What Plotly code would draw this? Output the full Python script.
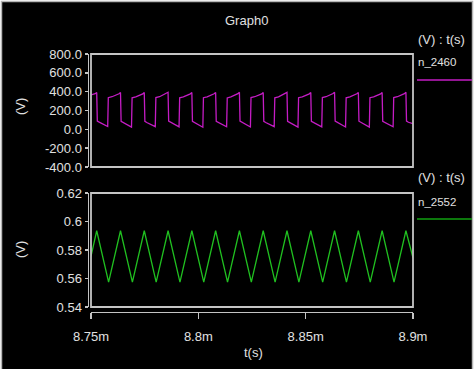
import plotly.graph_objects as go

# ---------------- data (time offsets in microseconds after 8.75 ms) ----------------
t0_s = 8.75e-3

n2460_t_us = [0.00, 1.96, 2.66, 2.94, 3.82,
              7.78, 8.06, 9.78, 13.04, 13.74, 14.02, 14.90,
              18.86, 19.14, 20.86, 24.12, 24.82, 25.10, 25.98,
              29.94, 30.22, 31.94, 35.20, 35.90, 36.18, 37.06,
              41.02, 41.30, 43.02, 46.28, 46.98, 47.26, 48.14,
              52.10, 52.38, 54.10, 57.36, 58.06, 58.34, 59.22,
              63.18, 63.46, 65.18, 68.44, 69.14, 69.42, 70.30,
              74.26, 74.54, 76.26, 79.52, 80.22, 80.50, 81.38,
              85.34, 85.62, 87.34, 90.60, 91.30, 91.58, 92.46,
              96.42, 96.70, 98.42, 101.68, 102.38, 102.66, 103.54,
              107.50, 107.78, 109.50, 112.76, 113.46, 113.74, 114.62,
              118.58, 118.86, 120.58, 123.84, 124.54, 124.82, 125.70,
              129.66, 129.94, 131.66, 134.92, 135.62, 135.90, 136.78,
              140.74, 141.02, 142.74, 146.00, 146.70, 146.98, 147.86,
              150.00]
n2460_v = [365, 378, 392, 88, 76,
           30, 336, 346, 378, 390, 86, 74,
           24, 334, 344, 376, 392, 84, 72,
           28, 338, 346, 380, 394, 88, 75,
           26, 335, 345, 377, 390, 85, 73,
           22, 336, 344, 378, 392, 86, 74,
           27, 334, 345, 379, 393, 87, 75,
           25, 337, 346, 376, 390, 84, 72,
           28, 335, 344, 378, 392, 86, 74,
           24, 336, 345, 377, 391, 85, 73,
           26, 338, 346, 380, 394, 87, 75,
           25, 335, 344, 378, 392, 86, 74,
           23, 336, 345, 376, 390, 84, 72,
           27, 337, 346, 379, 393, 88, 75,
           60]

n2552_t_us = [0.00, 2.66, 8.20, 13.74, 19.28, 24.82, 30.36, 35.90, 41.44, 46.98,
              52.52, 58.06, 63.60, 69.14, 74.68, 80.22, 85.76, 91.30, 96.84,
              102.38, 107.92, 113.46, 119.00, 124.54, 130.08, 135.62, 141.16,
              146.70, 150.00]
n2552_v = [0.5755, 0.5935, 0.5575, 0.5935, 0.5575, 0.5935, 0.5575, 0.5935, 0.5575,
           0.5935, 0.5575, 0.5935, 0.5575, 0.5935, 0.5575, 0.5935, 0.5575, 0.5935,
           0.5575, 0.5935, 0.5575, 0.5935, 0.5575, 0.5935, 0.5575, 0.5935, 0.5575,
           0.5935, 0.5745]

x_tickvals = [8.75e-3, 8.80e-3, 8.85e-3, 8.90e-3]
x_ticktext = ["8.75m", "8.8m", "8.85m", "8.9m"]
y1_tickvals = [800, 600, 400, 200, 0, -200, -400]
y1_ticktext = ["800.0", "600.0", "400.0", "200.0", "0.0", "-200.0", "-400.0"]
y2_tickvals = [0.62, 0.60, 0.58, 0.56, 0.54]
y2_ticktext = ["0.62", "0.6", "0.58", "0.56", "0.54"]

# ---------------- layout helpers ----------------
W, H = 475, 369
def px(x): return x / W
def py(y): return 1 - y / H

TXT = "#e0e0e0"
GRID = "#c4c4c4"
FONT = "Liberation Sans"
MAG = "#c41cc4"
GRN = "#20c020"

x_dom = [px(91), px(413)]
top_dom = [py(167), py(54)]
bot_dom = [py(307), py(193)]

fig = go.Figure()
fig.add_trace(go.Scatter(x=[t0_s + u * 1e-6 for u in n2460_t_us], y=n2460_v,
                         mode="lines", line=dict(color=MAG, width=1.3),
                         xaxis="x2", yaxis="y2", showlegend=False, hoverinfo="skip"))
fig.add_trace(go.Scatter(x=[t0_s + u * 1e-6 for u in n2552_t_us], y=n2552_v,
                         mode="lines", line=dict(color=GRN, width=1.3),
                         xaxis="x", yaxis="y", showlegend=False, hoverinfo="skip"))

axfont = dict(family=FONT, size=13, color=TXT)
fig.update_layout(
    width=W, height=H,
    margin=dict(l=0, r=0, t=0, b=0, pad=0, autoexpand=False),
    paper_bgcolor="white",
    plot_bgcolor="black",
    showlegend=False,
    font=axfont,
    xaxis=dict(domain=x_dom, range=[8.75e-3, 8.9e-3], anchor="free", position=py(311.5),
               automargin=False,
               showgrid=False, zeroline=False, showline=True, linecolor=GRID, linewidth=1.5,
               ticks="outside", ticklen=6, tickcolor=GRID, tickwidth=1.5,
               tickvals=x_tickvals, ticktext=x_ticktext, tickfont=axfont, ticklabelstandoff=6),
    yaxis=dict(domain=bot_dom, range=[0.54, 0.62], anchor="free", position=px(87.5),
               automargin=False,
               showgrid=False, zeroline=False, showline=True, linecolor=GRID, linewidth=1.5,
               ticks="outside", ticklen=3, tickcolor=GRID, tickwidth=1.5,
               tickvals=y2_tickvals, ticktext=y2_ticktext, tickfont=axfont),
    xaxis2=dict(domain=x_dom, range=[8.75e-3, 8.9e-3], anchor="y2", visible=False,
                automargin=False, matches="x"),
    yaxis2=dict(domain=top_dom, range=[-400, 800], anchor="free", position=px(87.5),
                automargin=False,
                showgrid=False, zeroline=False, showline=True, linecolor=GRID, linewidth=1.5,
                ticks="outside", ticklen=3, tickcolor=GRID, tickwidth=1.5,
                tickvals=y1_tickvals, ticktext=y1_ticktext, tickfont=axfont),
)

shapes = [
    # outer black panel with gray top/left edge
    dict(type="rect", xref="paper", yref="paper", x0=px(1.5), x1=px(472.5), y0=py(372), y1=py(1.5),
         fillcolor="black", line=dict(color="#b4b4b4", width=1.5), layer="below"),
    # plot boxes
    dict(type="rect", xref="x domain", yref="y domain", x0=0, x1=1, y0=0, y1=1,
         line=dict(color=GRID, width=1.8), fillcolor="rgba(0,0,0,0)"),
    dict(type="rect", xref="x2 domain", yref="y2 domain", x0=0, x1=1, y0=0, y1=1,
         line=dict(color=GRID, width=1.8), fillcolor="rgba(0,0,0,0)"),
    # legend swatches
    dict(type="line", xref="paper", yref="paper", x0=px(417), x1=px(472), y0=py(80), y1=py(80),
         line=dict(color=MAG, width=1.5)),
    dict(type="line", xref="paper", yref="paper", x0=px(417), x1=px(472), y0=py(219), y1=py(219),
         line=dict(color="#10a010", width=1.5)),
]
fig.update_layout(shapes=shapes)

def ann(text, x, y, xanchor="center", size=13, angle=0):
    return dict(text=text, x=px(x), y=py(y), xref="paper", yref="paper", showarrow=False,
                xanchor=xanchor, yanchor="middle", textangle=angle,
                font=dict(family=FONT, size=size, color=TXT))

fig.update_layout(annotations=[
    ann("Graph0", 246, 21),
    ann("(V) : t(s)", 416, 39, xanchor="left"),
    ann("n_2460", 416, 62, xanchor="left", size=11.5),
    ann("(V) : t(s)", 416, 177, xanchor="left"),
    ann("n_2552", 416, 202, xanchor="left", size=11.5),
    ann("(V)", 20, 107, angle=-90),
    ann("(V)", 20, 250, angle=-90),
    ann("t(s)", 253, 352),
])

fig.write_html("out.html",
               config={"displayModeBar": False, "staticPlot": True},
               post_script="document.body.style.margin='0px';"
                           "document.body.style.overflow='hidden';")
